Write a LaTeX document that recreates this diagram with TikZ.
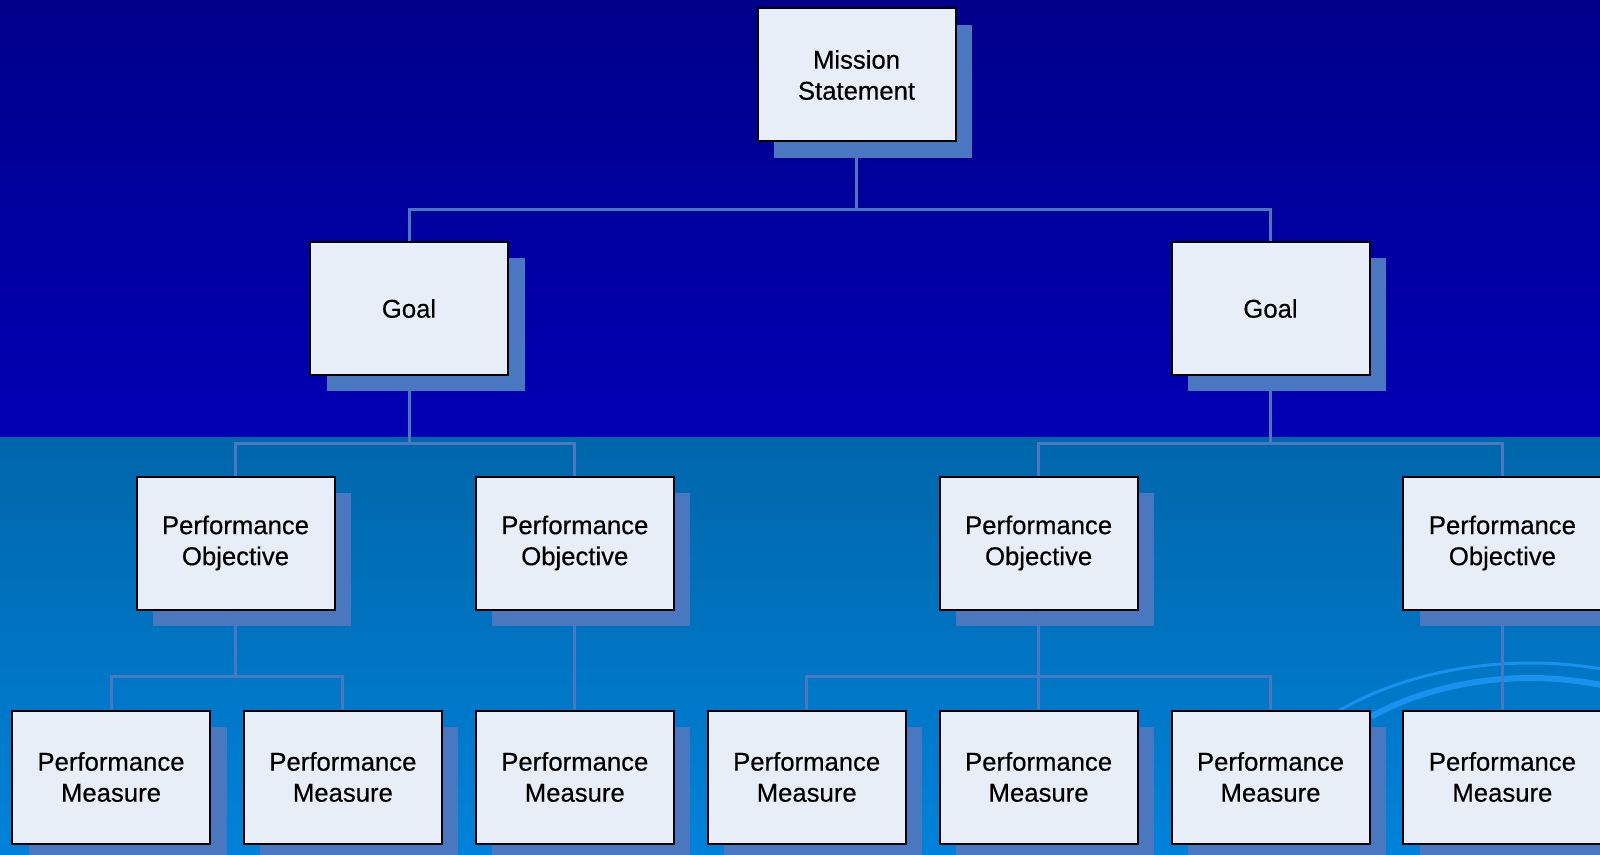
\documentclass[tikz,border=0pt]{standalone}
\usepackage{fontspec}
\setmainfont[FakeBold=0.4]{Liberation Sans}
\usetikzlibrary{shadows}
\definecolor{skytop}{RGB}{0,0,138}
\definecolor{skymid}{RGB}{0,0,180}
\definecolor{seatop}{RGB}{0,102,170}
\definecolor{seabot}{RGB}{0,130,218}
\definecolor{boxfill}{RGB}{232,238,248}
\definecolor{linkblue}{RGB}{74,120,192}
\definecolor{swirl}{RGB}{24,146,238}

\begin{document}
\begin{tikzpicture}[x=0.5pt,y=-0.5pt,
  box/.style={draw=black,line width=1pt,fill=boxfill,minimum width=99pt,minimum height=66.5pt,
    inner sep=0pt,align=center,font=\fontsize{12.85}{15.5}\selectfont,
    drop shadow={shadow xshift=8.25pt,shadow yshift=-8.25pt,fill=linkblue,opacity=1}},
  link/.style={draw=linkblue,line width=1.5pt}]
\useasboundingbox (0,0) rectangle (1600,855);
\clip (0,0) rectangle (1600,855);
\shade[top color=skytop,bottom color=skymid] (0,0) rectangle (1600,437);
\shade[top color=seatop,bottom color=seabot] (0,437) rectangle (1600,855);
\draw[swirl,line width=1.5pt] (1530,860) ++(220:293 and 197) arc[start angle=220,end angle=300,x radius=293,y radius=197];
\draw[swirl,line width=3pt] (1530,860) ++(232:258 and 182) arc[start angle=232,end angle=300,x radius=258,y radius=182];
\node[box] (mission) at (856.5,75) {Mission\\Statement};
\node[box] (goalA) at (409,308.5) {Goal};
\node[box] (goalB) at (1270.5,308.5) {Goal};
\node[box] (objA) at (235.5,543) {Performance\\Objective};
\node[box] (objB) at (574.8,543) {Performance\\Objective};
\node[box] (objC) at (1038.6,543) {Performance\\Objective};
\node[box] (objD) at (1502.4,543) {Performance\\Objective};
\node[box] (measA) at (111,777) {Performance\\Measure};
\node[box] (measB) at (342.9,777) {Performance\\Measure};
\node[box] (measC) at (574.8,777) {Performance\\Measure};
\node[box] (measD) at (806.7,777) {Performance\\Measure};
\node[box] (measE) at (1038.6,777) {Performance\\Measure};
\node[box] (measF) at (1270.5,777) {Performance\\Measure};
\node[box] (measG) at (1502.4,777) {Performance\\Measure};
\draw[link] (mission.south) -- ++(0,67) -| (goalA.north);
\draw[link] (mission.south) -- ++(0,67) -| (goalB.north);
\draw[link] (goalA.south) -- ++(0,67) -| (objA.north);
\draw[link] (goalA.south) -- ++(0,67) -| (objB.north);
\draw[link] (goalB.south) -- ++(0,67) -| (objC.north);
\draw[link] (goalB.south) -- ++(0,67) -| (objD.north);
\draw[link] (objA.south) -- ++(0,66) -| (measA.north);
\draw[link] (objA.south) -- ++(0,66) -| (measB.north);
\draw[link] (objB.south) -- (measC.north);
\draw[link] (objC.south) -- ++(0,66) -| (measD.north);
\draw[link] (objC.south) -- (measE.north);
\draw[link] (objC.south) -- ++(0,66) -| (measF.north);
\draw[link] (objD.south) -- (measG.north);
\end{tikzpicture}
\end{document}
